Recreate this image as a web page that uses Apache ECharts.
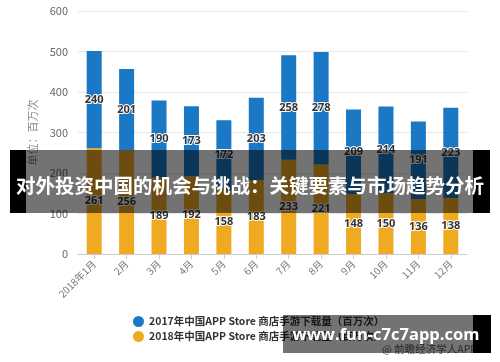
<!DOCTYPE html>
<html>
<head>
<meta charset="utf-8">
<script src="https://cdn.jsdelivr.net/npm/echarts@6/dist/echarts.min.js"></script>
<style>html,body{margin:0;padding:0;background:#fff;}#c{width:500px;height:362px;}</style>
</head>
<body>
<div id="c"></div>
<script>
var categories = ['2018年1月','2月','3月','4月','5月','6月','7月','8月','9月','10月','11月','12月'];
var series2017 = [240, 201, 190, 173, 172, 203, 258, 278, 209, 214, 191, 223];
var series2018 = [261, 256, 189, 192, 158, 183, 233, 221, 148, 150, 136, 138];
var seriesNames = ['2017年中国APP Store 商店手游下载量（百万次）', '2018年中国APP Store 商店手游下载量（百万次）'];
var yTicks = [0, 100, 200, 300, 400, 500, 600];
var bannerText = '对外投资中国的机会与挑战：关键要素与市场趋势分析';
var siteText = 'www.fun-c7c7app.com';
var sourceText = '@ 前瞻经济学人APP';

var chart = echarts.init(document.getElementById('c'));
var labelStyle = {
  show: true, position: 'inside', color: '#333', fontSize: 11, fontWeight: 'bold',
  textBorderColor: '#fff', textBorderWidth: 2, fontFamily: 'Noto Sans'
};
chart.setOption({
  animation: false,
  textStyle: { fontFamily: 'Noto Sans CJK SC' },
  grid: { left: 78, right: 33, top: 11, bottom: 108 },
  legend: {
    orient: 'vertical', left: 128, top: 311, itemGap: 4,
    icon: 'circle', itemWidth: 11, itemHeight: 11,
    textStyle: { color: '#333', fontSize: 10.5, fontWeight: 'bold', fontFamily: 'Noto Sans CJK SC' },
    data: seriesNames
  },
  xAxis: {
    type: 'category', data: categories,
    axisLine: { lineStyle: { color: '#ccc' } },
    axisTick: { show: true, alignWithLabel: true, lineStyle: { color: '#ccc' } },
    axisLabel: { rotate: 45, color: '#777', fontSize: 10, interval: 0, margin: 8 }
  },
  yAxis: {
    type: 'value', min: yTicks[0], max: yTicks[yTicks.length - 1], interval: 100,
    name: '单位：百万次', nameLocation: 'middle', nameGap: 34,
    nameTextStyle: { color: '#888', fontSize: 11 },
    axisLine: { show: false }, axisTick: { show: false },
    axisLabel: { color: '#666', fontSize: 11, margin: 10 },
    splitLine: { lineStyle: { color: '#e6e6e6' } }
  },
  series: [
    { name: seriesNames[1], type: 'bar', stack: 'a', barWidth: 15, data: series2018,
      itemStyle: { color: '#f0aa22' }, label: labelStyle },
    { name: seriesNames[0], type: 'bar', stack: 'a', barWidth: 15, data: series2017,
      itemStyle: { color: '#1a78c4' }, label: labelStyle }
  ],
  graphic: [
    { type: 'text', left: 382, top: 344, z: 50,
      style: { text: sourceText, fill: '#555', font: '10.5px "Noto Sans CJK SC"' } },
    { type: 'rect', shape: { x: 26, y: 150, width: 447, height: 63 }, z: 100,
      style: { fill: 'rgba(0,0,0,0.55)' } },
    { type: 'rect', shape: { x: 10, y: 150, width: 16, height: 63 }, z: 100, style: { fill: '#000' } },
    { type: 'rect', shape: { x: 473, y: 150, width: 17, height: 63 }, z: 100, style: { fill: '#000' } },
    { type: 'text', x: 250, y: 186, z: 101,
      style: { text: bannerText, fill: '#fff', font: 'bold 19.5px "Noto Sans CJK SC"', textAlign: 'center', textVerticalAlign: 'middle' } },
    { type: 'rect', shape: { x: 283, y: 315, width: 190, height: 38 }, z: 100,
      style: { fill: 'rgba(0,0,0,0.55)' } },
    { type: 'rect', shape: { x: 473, y: 315, width: 18, height: 38 }, z: 100, style: { fill: '#000' } },
    { type: 'text', x: 386, y: 335, z: 101,
      style: { text: siteText, fill: '#fff', font: 'bold 16.5px "Open Sans"', textAlign: 'center', textVerticalAlign: 'middle' } }
  ]
});
</script>
</body>
</html>
